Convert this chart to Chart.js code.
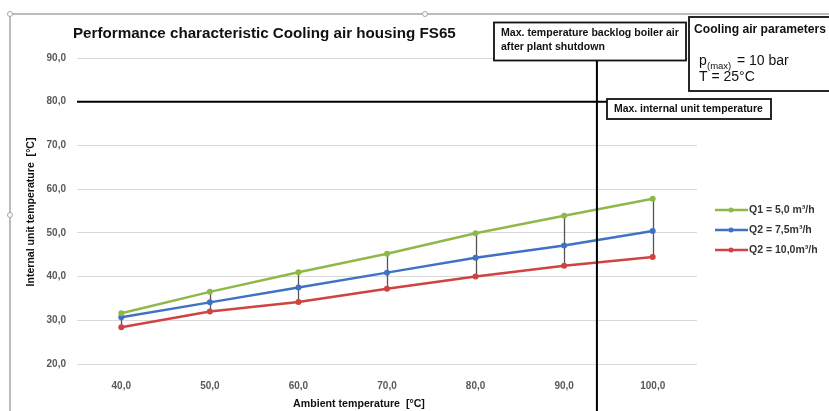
<!DOCTYPE html>
<html><head><meta charset="utf-8">
<script src="https://cdn.jsdelivr.net/npm/chart.js@4/dist/chart.umd.min.js"></script>
<style>html,body{margin:0;padding:0;background:#fff}#wrap{width:829px;height:411px;position:relative}</style>
</head><body><div id="wrap"><canvas id="c" width="829" height="411"></canvas></div>
<script>
const xValues = [40, 50, 60, 70, 80, 90, 100];
const xTickLabels = ['40,0','50,0','60,0','70,0','80,0','90,0','100,0'];
const yTickLabels = ['20,0','30,0','40,0','50,0','60,0','70,0','80,0','90,0'];
const q1 = [31.6, 36.5, 41.0, 45.2, 49.9, 53.9, 57.8];
const q2 = [30.7, 34.1, 37.5, 40.9, 44.3, 47.1, 50.4];
const q3 = [28.4, 32.0, 34.2, 37.2, 40.0, 42.5, 44.5];
const seriesNames = ['Q1 = 5,0 m³/h', 'Q2 = 7,5m³/h', 'Q2 = 10,0m³/h'];
const seriesColors = ['#8fb84a', '#3f72c4', '#cf4340'];
const maxInternalTemp = 80;
const shutdownAmbient = 93.7;

const FAM = '"Liberation Sans", Arial, sans-serif';
const pts = arr => arr.map((v,i)=>({x:xValues[i], y:v}));

function fitText(ctx, text, x, y, w, weight){
  ctx.font = weight + ' 10px ' + FAM;
  const m = ctx.measureText(text).width;
  const size = 10 * w / m;
  ctx.font = weight + ' ' + size.toFixed(2) + 'px ' + FAM;
  ctx.fillText(text, x, y);
}

const overlay = {
  id:'overlay',
  beforeDraw(chart){
    const ctx = chart.ctx;
    ctx.save(); ctx.fillStyle='#fff'; ctx.fillRect(0,0,chart.width,chart.height); ctx.restore();
  },
  beforeDatasetsDraw(chart){
    const ctx = chart.ctx, xs = chart.scales.x, ys = chart.scales.y;
    ctx.save();
    ctx.strokeStyle='#555'; ctx.lineWidth=1.3;
    xValues.forEach((xv,i)=>{
      const hi = Math.max(q1[i],q2[i],q3[i]), lo = Math.min(q1[i],q2[i],q3[i]);
      const px = Math.round(xs.getPixelForValue(xv))+0.5;
      ctx.beginPath(); ctx.moveTo(px, ys.getPixelForValue(hi)); ctx.lineTo(px, ys.getPixelForValue(lo)); ctx.stroke();
    });
    ctx.restore();
  },
  afterDraw(chart){
    const ctx = chart.ctx, xs = chart.scales.x, ys = chart.scales.y, ca = chart.chartArea;
    ctx.save();
    // frame
    ctx.strokeStyle='#a6a6a6'; ctx.lineWidth=1.5;
    ctx.beginPath(); ctx.moveTo(10,411); ctx.lineTo(10,14); ctx.lineTo(829,14); ctx.stroke();
    [[10,14],[425,14],[10,215]].forEach(([x,y])=>{
      ctx.beginPath(); ctx.arc(x,y,2.5,0,Math.PI*2); ctx.fillStyle='#fff'; ctx.fill(); ctx.lineWidth=1; ctx.stroke();
    });
    // horizontal limit line
    const yl = ys.getPixelForValue(maxInternalTemp);
    ctx.strokeStyle='#000'; ctx.lineWidth=2;
    ctx.beginPath(); ctx.moveTo(ca.left, yl); ctx.lineTo(607, yl); ctx.stroke();
    // vertical line
    const xl = xs.getPixelForValue(shutdownAmbient);
    ctx.beginPath(); ctx.moveTo(xl, 60); ctx.lineTo(xl, 411); ctx.stroke();
    // boxes
    ctx.fillStyle='#fff'; ctx.lineWidth=1.8; ctx.strokeStyle='#111';
    const box=(x,y,w,h)=>{ctx.fillRect(x,y,w,h); ctx.strokeRect(x,y,w,h);};
    box(494,22.5,192,38);
    box(689,17,150,74);
    box(607,99,164,20);
    ctx.fillStyle='#111'; ctx.textBaseline='middle'; ctx.textAlign='left';
    fitText(ctx, 'Max. temperature backlog boiler air', 501, 33.5, 178, 'bold');
    ctx.fillText('after plant shutdown', 501, 47);
    fitText(ctx, 'Max. internal unit temperature', 614, 109, 149, 'bold');
    fitText(ctx, 'Cooling air parameters', 694, 30, 132, 'bold');
    ctx.font='14px ' + FAM;
    ctx.fillText('p', 699, 61);
    ctx.font='9.5px ' + FAM;
    ctx.fillText('(max)', 707, 66);
    ctx.font='14px ' + FAM;
    ctx.fillText('= 10 bar', 737, 61);
    ctx.fillText('T = 25°C', 699, 77);
    // title
    fitText(ctx, 'Performance characteristic Cooling air housing FS65', 73, 34, 383, 'bold');
    // axis titles
    ctx.textAlign='center';
    fitText(ctx, 'Ambient temperature  [°C]', 359, 404, 132, 'bold');
    ctx.save(); ctx.translate(31, 212); ctx.rotate(-Math.PI/2);
    fitText(ctx, 'Internal unit temperature  [°C]', 0, 0, 149, 'bold'); ctx.restore();
    // legend
    const ly=[210,230,250];
    ctx.textAlign='left';
    seriesNames.forEach((n,i)=>{
      ctx.strokeStyle=seriesColors[i]; ctx.lineWidth=2.5;
      ctx.beginPath(); ctx.moveTo(715,ly[i]); ctx.lineTo(748,ly[i]); ctx.stroke();
      ctx.fillStyle=seriesColors[i]; ctx.beginPath(); ctx.arc(731,ly[i],2.5,0,Math.PI*2); ctx.fill();
      ctx.fillStyle='#333'; ctx.font='bold 10.5px ' + FAM;
      ctx.fillText(n, 749, ly[i]+0.5);
    });
    ctx.restore();
  }
};

const mk = (label, data, color) => ({label, data: pts(data), borderColor: color, backgroundColor: color,
  borderWidth: 2.5, pointRadius: 3, pointBorderWidth: 0, pointBackgroundColor: color, tension: 0});

const tickFont = { size: 10, weight: 'bold', family: FAM };
new Chart(document.getElementById('c'), {
  type: 'line',
  data: { datasets: [mk(seriesNames[0], q1, seriesColors[0]), mk(seriesNames[1], q2, seriesColors[1]), mk(seriesNames[2], q3, seriesColors[2])] },
  options: {
    responsive: false, animation: false, devicePixelRatio: 1,
    layout: { padding: { left: 0, right: 132, top: 58, bottom: 0 } },
    plugins: { legend: { display: false }, tooltip: { enabled: false }, title: { display: false } },
    scales: {
      x: { type: 'linear', min: 35, max: 105,
        afterBuildTicks: s => { s.ticks = xValues.map(v => ({value: v})); },
        afterFit: s => { s.height = 47; },
        grid: { display: false }, border: { display: false },
        ticks: { padding: 8, color: '#595959', font: tickFont,
          callback: (v) => xTickLabels[xValues.indexOf(v)] }
      },
      y: { min: 20, max: 90,
        afterBuildTicks: s => { s.ticks = yTickLabels.map((t,i) => ({value: 20 + i*10})); },
        afterFit: s => { s.width = 77; },
        grid: { color: '#d9d9d9', lineWidth: 1, drawTicks: false }, border: { display: false },
        ticks: { padding: 11, color: '#595959', font: tickFont,
          callback: (v) => yTickLabels[(v - 20) / 10] }
      }
    }
  },
  plugins: [overlay]
});
</script></body></html>
